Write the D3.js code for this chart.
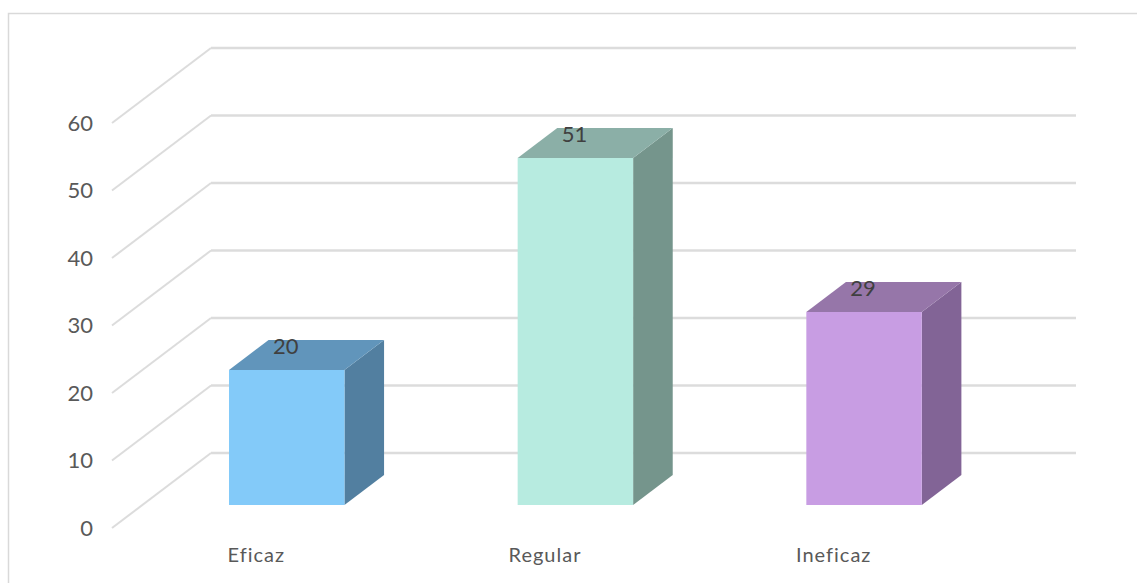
<!DOCTYPE html>
<html><head><meta charset="utf-8">
<script src="https://cdnjs.cloudflare.com/ajax/libs/d3/7.8.5/d3.min.js"></script>
<style>html,body{margin:0;padding:0;background:#fff;overflow:hidden}svg{display:block}text{font-family:Lato,sans-serif}</style>
</head><body><svg id="c" width="1137" height="583"></svg>
<script>
const categories = ["Eficaz","Regular","Ineficaz"];
const values = [20,51.4,28.6];
const yTicks = [0,10,20,30,40,50,60];
const frontColors = ["#83caf9","#b7ebe0","#c89de3"];
const topColors = ["#6195bb","#8bafa7","#9676a9"];
const sideColors = ["#527fa0","#75958c","#826496"];

const svg = d3.select("#c");
svg.append("path").attr("d","M8.5,583V13.5H1137").attr("fill","none").attr("stroke","#d9d9d9").attr("stroke-width",1.5);

const depthX = 99, depthY = 75, zFront = 0.307, zBack = 0.707;
const x = d3.scaleBand().domain(categories).range([112,978]).paddingInner(0.6).paddingOuter(0.3);
const y = d3.scaleLinear().domain([0,60]).range([528,123]);
const proj = (px,v,z)=>[px+z*depthX, y(v)-z*depthY];
const line = d3.line();

// grid
const grid = svg.append("g").attr("fill","none").attr("stroke","#dcdcdc");
yTicks.forEach(t=>{
  grid.append("path").attr("stroke-width",2).attr("d",line([proj(112,t,0),proj(112,t,1)]));
  grid.append("path").attr("stroke-width",2.6).attr("d",line([proj(112,t,1),proj(977,t,1)]));
});

// axes
const ay = svg.append("g").attr("transform","translate(93,0.3)")
  .call(d3.axisLeft(y).tickValues(yTicks).tickSize(0).tickPadding(0));
ay.select(".domain").remove();
ay.selectAll("text").attr("font-size",22).attr("fill","#595959").attr("font-family","Lato");

const ax = svg.append("g").attr("transform","translate(0,555)")
  .call(d3.axisBottom(x).tickSize(0).tickPadding(0));
ax.select(".domain").remove();
ax.selectAll("text").attr("font-size",20).attr("letter-spacing",1).attr("fill","#595959").attr("font-family","Lato")
  .attr("dy","0.35em").attr("y",0);

// bars
const bars = svg.append("g").selectAll("g").data(categories).join("g");
bars.each(function(c,i){
  const g = d3.select(this), l = x(c), r = l+x.bandwidth(), v = values[i];
  g.append("path").attr("fill",sideColors[i])
    .attr("d",line([proj(r,0,zFront),proj(r,0,zBack),proj(r,v,zBack),proj(r,v,zFront)])+"Z");
  g.append("path").attr("fill",topColors[i])
    .attr("d",line([proj(l,v,zFront),proj(r,v,zFront),proj(r,v,zBack),proj(l,v,zBack)])+"Z");
  g.append("path").attr("fill",frontColors[i])
    .attr("d",line([proj(l,0,zFront),proj(r,0,zFront),proj(r,v,zFront),proj(l,v,zFront)])+"Z");
  const c0 = proj(l+x.bandwidth()/2,v,zFront);
  g.append("text").attr("x",c0[0]-1).attr("y",c0[1]-24).attr("dy","0.35em")
    .attr("text-anchor","middle").attr("font-size",22).attr("fill","#404040")
    .text(d3.format(".0f")(v));
});
</script></body></html>
